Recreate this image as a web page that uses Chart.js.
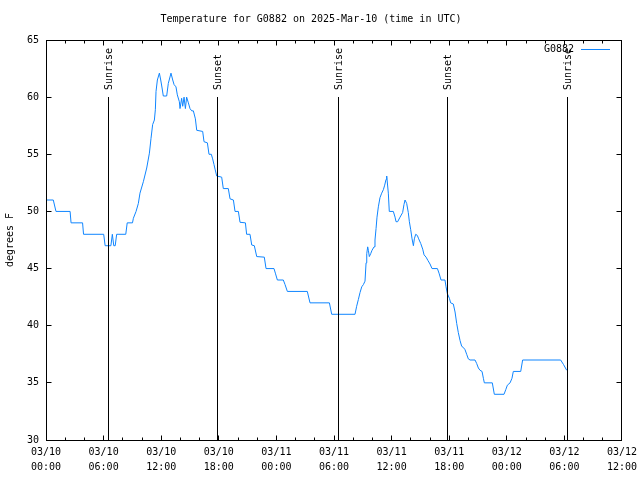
<!DOCTYPE html>
<html lang="en">
  <head>
    <meta charset="UTF-8" />
    <title>Temperature for G0882</title>
    <script src="https://cdn.jsdelivr.net/npm/chart.js"></script>
    <style>
      body { margin: 0; background: #fff; }
    </style>
  </head>
  <body>
    <canvas id="tempChart" width="640" height="480"></canvas>
    <script>
      // hours since 03/10 00:00 UTC
      const hours = [
        0.0, 0.76, 1.04, 2.51, 2.61, 3.81, 3.91, 6.01, 6.16, 6.76,
        6.91, 7.06, 7.21, 7.36, 7.51, 8.31, 8.46, 9.01, 9.10, 9.38,
        9.62, 9.79, 10.14, 10.49, 10.77, 10.94, 11.11, 11.29, 11.39, 11.46,
        11.60, 11.81, 11.95, 12.09, 12.22, 12.57, 12.74, 13.02, 13.20, 13.34,
        13.54, 13.68, 13.89, 13.96, 14.13, 14.24, 14.38, 14.52, 14.65, 14.83,
        15.00, 15.18, 15.35, 15.56, 15.70, 16.32, 16.46, 16.81, 16.98, 17.22,
        17.36, 17.50, 17.61, 17.78, 18.30, 18.47, 18.99, 19.17, 19.52, 19.69,
        20.04, 20.21, 20.77, 20.90, 21.25, 21.43, 21.70, 21.95, 22.74, 22.92,
        23.75, 23.89, 24.10, 24.72, 24.90, 25.14, 27.22, 27.50, 29.52, 29.76,
        32.19, 32.36, 32.54, 32.71, 32.89, 33.06, 33.23, 33.34, 33.41, 33.51,
        33.58, 33.68, 33.82, 33.96, 34.17, 34.27, 34.38, 34.48, 34.62, 34.79,
        34.97, 35.14, 35.28, 35.42, 35.49, 35.66, 35.76, 36.18, 36.36, 36.46,
        36.63, 36.88, 37.15, 37.29, 37.40, 37.57, 37.74, 37.85, 37.99, 38.13,
        38.27, 38.37, 38.51, 38.68, 38.82, 39.03, 39.24, 39.38, 39.59, 39.79,
        40.00, 40.21, 40.77, 40.94, 41.15, 41.56, 41.67, 41.81, 42.02, 42.15,
        42.43, 42.61, 42.78, 42.95, 43.13, 43.30, 43.47, 43.65, 43.82, 43.99,
        44.17, 44.69, 44.86, 45.04, 45.21, 45.42, 45.56, 45.66, 46.49, 46.70,
        47.71, 47.89, 48.06, 48.34, 48.54, 48.68, 49.45, 49.65, 53.61, 53.91,
        54.24
      ];
      const tempF = [
        51, 51, 50, 50, 49, 49, 48, 48, 47, 47,
        48, 47, 47, 48, 48, 48, 49, 49, 49.4, 50,
        50.7, 51.6, 52.6, 53.8, 55.1, 56.4, 57.6, 58, 58.9, 60.5,
        61.5, 62.1, 61.5, 60.8, 60.1, 60.1, 61.2, 62.1, 61.5, 61.1,
        60.9, 60.2, 59.6, 59.0, 59.9, 59.2, 60.0, 59.0, 60.0, 59.5,
        59.0, 58.8, 58.8, 58.1, 57.1, 57.0, 56.1, 56.0, 55.0, 55.0,
        54.6, 54.1, 53.7, 53.1, 53.0, 52.0, 52.0, 51.1, 51.0, 50.0,
        50.0, 49.05, 49.0, 48.0, 48.0, 47.06, 47.0, 46.05, 46.0, 45.0,
        45.0, 44.6, 44.0, 44.0, 43.6, 43.0, 43.0, 42.0, 42.0, 41.0,
        41.0, 41.7, 42.3, 42.9, 43.4, 43.6, 43.9, 45.5, 46.3, 46.9,
        46.6, 46.05, 46.3, 46.6, 46.9, 47.5, 48.5, 49.5, 50.4, 51.2,
        51.6, 51.9, 52.3, 52.8, 53.1, 51.6, 50.0, 50.0, 49.5, 49.1,
        49.1, 49.5, 49.9, 50.6, 51.0, 50.7, 49.9, 49.1, 48.4, 47.6,
        47.0, 47.6, 48.0, 47.9, 47.6, 47.2, 46.7, 46.2, 46.0, 45.7,
        45.4, 45.0, 45.0, 44.6, 44.0, 44.0, 43.4, 42.8, 42.4, 42.0,
        41.9, 41.2, 40.2, 39.4, 38.7, 38.2, 38.1, 37.9, 37.5, 37.1,
        37.0, 37.0, 36.7, 36.3, 36.1, 36.0, 35.4, 35.0, 35.0, 34.0,
        34.0, 34.4, 34.8, 35.0, 35.4, 36.0, 36.0, 37.0, 37.0, 36.6,
        36.1
      ];
      const sunHours = [6.5, 17.85, 30.47, 41.82, 54.32];
      const sunLabels = ["Sunrise", "Sunset", "Sunrise", "Sunset", "Sunrise"];
      const xTickLabels = [
        ["03/10", "00:00"], ["03/10", "06:00"], ["03/10", "12:00"], ["03/10", "18:00"],
        ["03/11", "00:00"], ["03/11", "06:00"], ["03/11", "12:00"], ["03/11", "18:00"],
        ["03/12", "00:00"], ["03/12", "06:00"], ["03/12", "12:00"]
      ];

      const FONT = "'DejaVu Sans Mono', monospace";
      Chart.defaults.font.family = FONT;
      Chart.defaults.font.size = 10;
      Chart.defaults.color = "#000";

      // gnuplot style: frame, inward ticks, sunrise/sunset markers, key
      const gnuplotFrame = {
        id: "gnuplotFrame",
        afterDatasetsDraw(chart) {
          const { ctx, chartArea: a, scales } = chart;
          const x = scales.x, y = scales.y;
          ctx.save();
          ctx.strokeStyle = "#000";
          ctx.fillStyle = "#000";
          ctx.lineWidth = 1;
          ctx.font = "10px " + FONT;

          const top60 = Math.round(y.getPixelForValue(60));
          sunHours.forEach((h, i) => {
            const px = Math.floor(x.getPixelForValue(h)) + 0.5;
            ctx.beginPath();
            ctx.moveTo(px, top60);
            ctx.lineTo(px, a.bottom);
            ctx.stroke();
            ctx.save();
            ctx.translate(px + 0.5, top60 - 7);
            ctx.rotate(-Math.PI / 2);
            ctx.textAlign = "left";
            ctx.textBaseline = "middle";
            ctx.fillText(sunLabels[i], 0, 0);
            ctx.restore();
          });

          ctx.strokeRect(a.left + 0.5, a.top + 0.5, a.right - a.left - 1, a.bottom - a.top);

          ctx.beginPath();
          for (let v = 2; v < 60; v += 2) {
            const px = Math.floor(x.getPixelForValue(v)) + 0.5;
            const len = v % 6 === 0 ? 5 : 3;
            ctx.moveTo(px, a.bottom + 0.5);
            ctx.lineTo(px, a.bottom + 0.5 - len);
            ctx.moveTo(px, a.top + 0.5);
            ctx.lineTo(px, a.top + 0.5 + len);
          }
          for (let v = 35; v < 65; v += 5) {
            const py = Math.floor(y.getPixelForValue(v)) + 0.5;
            ctx.moveTo(a.left + 0.5, py);
            ctx.lineTo(a.left + 5.5, py);
            ctx.moveTo(a.right - 0.5, py);
            ctx.lineTo(a.right - 5.5, py);
          }
          ctx.stroke();

          // key, top right
          const ds = chart.data.datasets[0];
          const ky = a.top + 9.5;
          ctx.textAlign = "right";
          ctx.textBaseline = "middle";
          ctx.fillText(ds.label, a.right - 48, ky);
          ctx.strokeStyle = ds.borderColor;
          ctx.beginPath();
          ctx.moveTo(a.right - 41, ky);
          ctx.lineTo(a.right - 12, ky);
          ctx.stroke();
          ctx.restore();
        }
      };

      new Chart(document.getElementById("tempChart").getContext("2d"), {
        type: "line",
        data: {
          datasets: [
            {
              label: "G0882",
              data: hours.map((h, i) => ({ x: h, y: tempF[i] })),
              borderColor: "#0f85ff",
              backgroundColor: "#0f85ff",
              borderWidth: 1,
              pointRadius: 0,
              tension: 0,
              fill: false
            }
          ]
        },
        options: {
          responsive: false,
          animation: false,
          devicePixelRatio: 1,
          layout: { padding: { top: 0, right: 18, bottom: 0, left: 0 } },
          plugins: {
            title: {
              display: true,
              text: "Temperature for G0882 on 2025-Mar-10 (time in UTC)",
              color: "#000",
              font: { size: 10, weight: "normal" },
              padding: { top: 13, bottom: 15 }
            },
            legend: { display: false },
            tooltip: { enabled: false }
          },
          scales: {
            x: {
              type: "linear",
              min: 0,
              max: 60,
              ticks: {
                stepSize: 6,
                autoSkip: false,
                maxRotation: 0,
                padding: 5,
                font: { size: 10, lineHeight: 1.5 },
                callback: (v) => xTickLabels[Math.round(v / 6)]
              },
              grid: { display: false, drawTicks: false },
              border: { display: false },
              afterFit: (s) => {
                s.height = 40;
                s.paddingLeft = 0;
                s.paddingRight = 0;
              }
            },
            y: {
              min: 30,
              max: 65,
              ticks: { stepSize: 5, padding: 7 },
              grid: { display: false, drawTicks: false },
              border: { display: false },
              title: {
                display: true,
                text: "degrees F",
                padding: { top: 4, bottom: 0 },
                font: { size: 10 }
              },
              afterFit: (s) => {
                s.width = 46;
              }
            }
          }
        },
        plugins: [gnuplotFrame]
      });
    </script>
  </body>
</html>
